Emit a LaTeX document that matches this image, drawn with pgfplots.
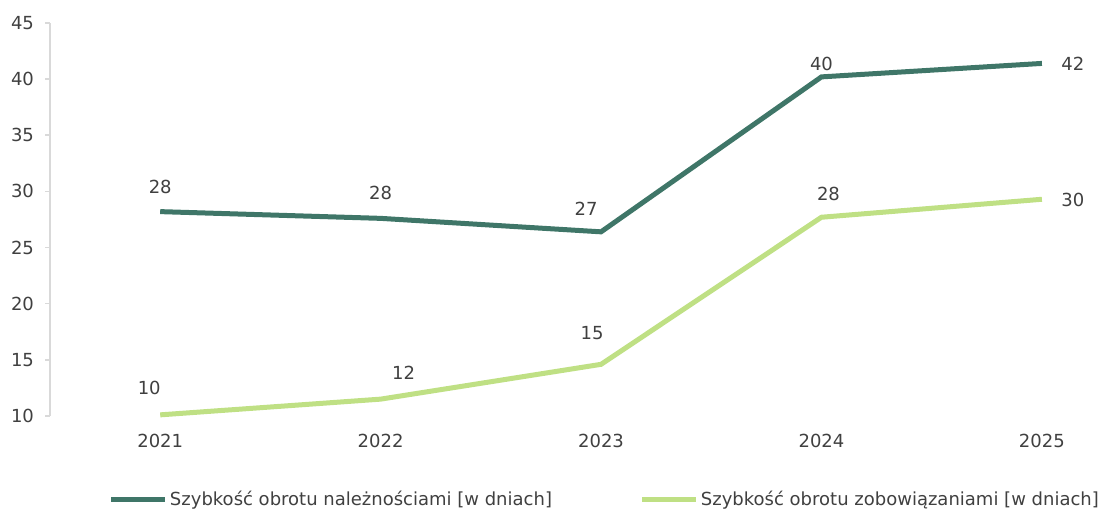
\documentclass[border=0pt]{standalone}
\usepackage{fontspec}
\setmainfont{DejaVu Sans}
\usepackage{pgfplots}
\pgfplotsset{compat=1.18}
\usepackage{pgfplotstable}
\definecolor{darkser}{HTML}{3F7668}
\definecolor{lightser}{HTML}{BFE084}
\definecolor{txt}{HTML}{404040}
\definecolor{axgray}{HTML}{D9D9D9}

\pgfplotstableread{
x y lab dx dy
2021 28.2 28 0 12.5
2022 27.6 28 0 12.5
2023 26.4 27 -7.5 11.5
2024 40.2 40 0 6.5
2025 41.4 42 15.5 0
}\darktab

\pgfplotstableread{
x y lab dx dy
2021 10.1 10 -5.5 13.5
2022 11.5 12 11.5 13
2023 14.6 15 -4.5 15.5
2024 27.7 28 3.5 11.5
2025 29.3 30 15.5 -0.5
}\lighttab

\begin{document}
\begin{tikzpicture}
\begin{axis}[
  scale only axis,
  width=523.5pt, height=196.5pt,
  xmin=2020.5, xmax=2025.25,
  ymin=10, ymax=45,
  axis lines*=left,
  x axis line style={draw=none},
  y axis line style={draw=axgray, line width=1pt},
  xtick={2021,2022,2023,2024,2025},
  ytick={10,15,...,45},
  xtick style={draw=none},
  ytick style={draw=axgray, line width=0.8pt},
  tick align=outside,
  major tick length=2.5pt,
  /pgf/number format/1000 sep={},
  /pgf/number format/assume math mode=true,
  tick label style={font=\fontsize{9}{11}\selectfont, text=txt},
  xticklabel style={yshift=-3pt},
  yticklabel style={xshift=-2pt},
  clip=false,
  legend columns=2,
  legend style={
    at={(0.53,-0.2137)}, anchor=center, draw=none,
    font=\fontsize{9}{11}\selectfont, text=txt,
    /tikz/every even column/.append style={column sep=43pt},
    nodes={inner sep=1pt},
  },
  legend image code/.code={\draw[#1, line width=2.5pt] (0pt,0pt) -- (27pt,0pt);},
  nodes near coords,
  point meta=explicit symbolic,
  visualization depends on={\thisrow{dx} \as \ldx},
  visualization depends on={\thisrow{dy} \as \ldy},
  nodes near coords style={anchor=center, xshift=\ldx pt, yshift=\ldy pt,
    font=\fontsize{9}{11}\selectfont, text=txt},
]
\addplot[darkser, line width=2.5pt, no markers] table[x=x, y=y, meta=lab] {\darktab};
\addlegendentry{Szybkość obrotu należnościami [w dniach]}
\addplot[lightser, line width=2.5pt, no markers] table[x=x, y=y, meta=lab] {\lighttab};
\addlegendentry{Szybkość obrotu zobowiązaniami [w dniach]}
\end{axis}
\pgfresetboundingbox
\path[use as bounding box] ([shift={(-25pt,-49.5pt)}]current axis.south west) rectangle ([shift={(2pt,11.5pt)}]current axis.north east);
\end{tikzpicture}
\end{document}
